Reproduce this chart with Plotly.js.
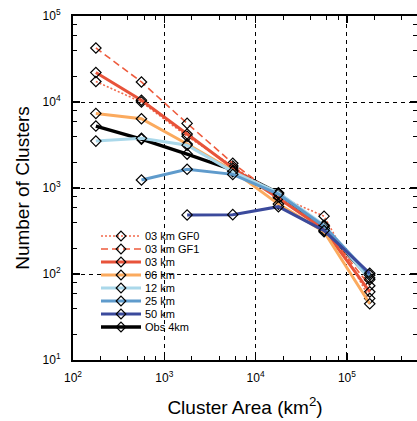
<!DOCTYPE html>
<html>
<head>
<meta charset="utf-8">
<script src="https://cdn.plot.ly/plotly-3.0.1.min.js"></script>
<style>
  html, body { margin: 0; padding: 0; background: #fff; }
  #chart { width: 417px; height: 421px; }
</style>
</head>
<body>
<div id="chart"></div>
<script>
// Cluster area bins (km^2), half-decade spaced
const areaBins = [178, 562, 1778, 5623, 17783, 56234, 177828];

// Number of clusters per bin for each run
const gf0Counts  = [17300, 10000, 4000, 1800, 800, 470, 52];
const gf1Counts  = [42500, 17100, 5640, 1940, 780, 340, 73];
const km03Counts = [22000, 10500, 4240, 1710, 760, 330, 62];
const km06Counts = [7360, 6380, 3250, 1600, 650, 310, 45];
const km12Counts = [3510, 3780, 3150, 1550, 880, 370, 86];
const km25Counts = [null, 1240, 1650, 1440, 850, 360, 97];
const km50Counts = [null, null, 486, 490, 607, 320, 102];
const obsCounts  = [5250, 3700, 2480, 1620, 870, 340, 90];

const seriesNames = ['03 km GF0', '03 km GF1', '03 km', '06 km', '12 km', '25 km', '50 km', 'Obs 4km'];
const seriesData  = [gf0Counts, gf1Counts, km03Counts, km06Counts, km12Counts, km25Counts, km50Counts, obsCounts];

const xTickVals = [1e2, 1e3, 1e4, 1e5];
const xTickText = ['10<sup>2</sup>', '10<sup>3</sup>', '10<sup>4</sup>', '10<sup>5</sup>'];
const yTickVals = [1e1, 1e2, 1e3, 1e4, 1e5];
const yTickText = ['10<sup>1</sup>', '10<sup>2</sup>', '10<sup>3</sup>', '10<sup>4</sup>', '10<sup>5</sup>'];

// styling per series
const styles = [
  { color: '#f2694c', width: 1.6, dash: '2px,2px' },
  { color: '#ee5b3d', width: 1.6, dash: '7px,4px' },
  { color: '#e8533a', width: 3, dash: 'solid' },
  { color: '#fbaa5e', width: 3, dash: 'solid' },
  { color: '#aad8ea', width: 3, dash: 'solid' },
  { color: '#5f9bcc', width: 3, dash: 'solid' },
  { color: '#3b4a9c', width: 3, dash: 'solid' },
  { color: '#000000', width: 3.4, dash: 'solid' }
];

// observations go underneath the model runs
const drawOrder = [7, 0, 1, 2, 3, 4, 5, 6];

const traces = drawOrder.map(i => ({
  type: 'scatter',
  mode: 'lines+markers',
  name: seriesNames[i],
  x: areaBins,
  y: seriesData[i],
  connectgaps: false,
  line: { color: styles[i].color, width: styles[i].width, dash: styles[i].dash },
  marker: { symbol: 'diamond-open', size: 8, color: '#000', line: { width: 1.2, color: '#000' } },
  showlegend: false,
  hoverinfo: 'skip'
}));

function minorTicks(d0, d1) {
  const v = [];
  for (let d = d0; d < d1; d++) for (const m of [2, 4, 6, 8]) v.push(m * Math.pow(10, d));
  return v;
}

// hand-built compact legend
const margin = { l: 73, r: 0, t: 16, b: 61 };
const plotW = 417 - margin.l - margin.r;
const plotH = 421 - margin.t - margin.b;
const px2x = px => (px - margin.l) / plotW;
const px2y = py => (421 - margin.b - py) / plotH;

const shapes = [];
const annotations = [];
const legTop = 236, legStep = 13.0;
seriesNames.forEach((name, i) => {
  const yp = legTop + legStep * i;
  const y = px2y(yp);
  shapes.push({
    type: 'line', xref: 'paper', yref: 'paper',
    x0: px2x(101), x1: px2x(141), y0: y, y1: y,
    line: { color: styles[i].color, width: styles[i].width, dash: styles[i].dash }
  });
  const cx = px2x(121), dx = 4.8 / plotW, dy = 4.8 / plotH;
  shapes.push({
    type: 'path', xref: 'paper', yref: 'paper',
    path: `M${cx},${y + dy} L${cx + dx},${y} L${cx},${y - dy} L${cx - dx},${y} Z`,
    line: { color: '#000', width: 1.2 }
  });
  annotations.push({
    xref: 'paper', yref: 'paper', x: px2x(142.5), y: y,
    xanchor: 'left', yanchor: 'middle', showarrow: false,
    text: name, font: { size: 11, color: '#000' }
  });
});

const axisCommon = {
  type: 'log',
  showgrid: true, gridcolor: '#000', gridwidth: 1, griddash: '4px,4px',
  zeroline: false,
  showline: true, linecolor: '#000', linewidth: 2, mirror: 'allticks',
  ticks: 'inside', ticklen: 7, tickwidth: 1.5, tickcolor: '#000',
  tickmode: 'array',
  tickfont: { size: 12, color: '#000' }
};

const layout = {
  width: 417, height: 421,
  margin: margin,
  paper_bgcolor: '#fff', plot_bgcolor: '#fff',
  font: { family: '"Liberation Sans", Arial, Helvetica, sans-serif', color: '#000' },
  showlegend: false,
  xaxis: Object.assign({}, axisCommon, {
    range: [2, 2 + plotW / 91.3],
    tickvals: xTickVals, ticktext: xTickText,
    ticklabelstandoff: 6,
    minor: { tickmode: 'array', tickvals: minorTicks(2, 6), ticks: 'inside', ticklen: 4, tickwidth: 1, tickcolor: '#000', showgrid: false },
    title: { text: 'Cluster Area (km<sup>2</sup>)', font: { size: 19 }, standoff: 16 }
  }),
  yaxis: Object.assign({}, axisCommon, {
    range: [1, 5],
    tickvals: yTickVals, ticktext: yTickText,
    ticklabelstandoff: 8,
    minor: { tickmode: 'array', tickvals: minorTicks(1, 5), ticks: 'inside', ticklen: 4, tickwidth: 1, tickcolor: '#000', showgrid: false },
    title: { text: 'Number of Clusters', font: { size: 19 }, standoff: 8 }
  }),
  shapes: shapes,
  annotations: annotations
};

Plotly.newPlot('chart', traces, layout, { displayModeBar: false, staticPlot: true });
</script>
</body>
</html>
